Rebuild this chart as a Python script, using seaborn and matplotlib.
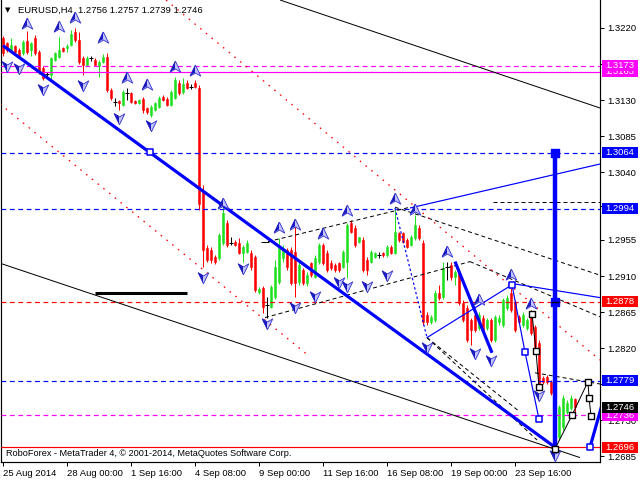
import numpy as np
import pandas as pd
import matplotlib
matplotlib.use("Agg")
import matplotlib.pyplot as plt
import matplotlib.transforms as mtransforms
from matplotlib.patches import Rectangle
from matplotlib.path import Path
import seaborn as sns

# EURUSD H4 свечи (цены)
opens = [1.3208, 1.3201, 1.3193, 1.3198, 1.3193, 1.3189, 1.3204, 1.3193, 1.3208, 1.3190,
         1.3170, 1.3163, 1.3161, 1.3180, 1.3184, 1.3195, 1.3195, 1.3199, 1.3215, 1.3205,
         1.3183, 1.3174, 1.3183, 1.3180, 1.3173, 1.3178, 1.3184, 1.3143, 1.3128, 1.3129,
         1.3124, 1.3139, 1.3139, 1.3129, 1.3126, 1.3131, 1.3120, 1.3111, 1.3118, 1.3121,
         1.3134, 1.3131, 1.3124, 1.3133, 1.3151, 1.3140, 1.3151, 1.3146, 1.3151, 1.3145,
         1.3015, 1.2945, 1.2943, 1.2934, 1.2933, 1.2951, 1.2976, 1.2951, 1.2953, 1.2951,
         1.2939, 1.2940, 1.2939, 1.2934, 1.2890, 1.2895, 1.2874, 1.2871, 1.2884, 1.2903,
         1.2933, 1.2943, 1.2943, 1.2940, 1.2903, 1.2918, 1.2901, 1.2926, 1.2909, 1.2928,
         1.2949, 1.2939, 1.2926, 1.2924, 1.2926, 1.2921, 1.2928, 1.2976, 1.2970, 1.2953,
         1.2955, 1.2930, 1.2928, 1.2934, 1.2936, 1.2939, 1.2936, 1.2946, 1.2939, 1.2964,
         1.2964, 1.2955, 1.2949, 1.2958, 1.2970, 1.2951, 1.2861, 1.2853, 1.2855, 1.2889,
         1.2884, 1.2921, 1.2924, 1.2909, 1.2914, 1.2876, 1.2870, 1.2855, 1.2861, 1.2845,
         1.2858, 1.2845, 1.2855, 1.2830, 1.2853, 1.2849, 1.2870, 1.2889, 1.2878, 1.2859,
         1.2849, 1.2845, 1.2864, 1.2846, 1.2826, 1.2783, 1.2784, 1.2778, 1.2764, 1.2709,
         1.2721, 1.2740, 1.2745, 1.2756]
highs = [1.3210, 1.3203, 1.3208, 1.3199, 1.3195, 1.3205, 1.3216, 1.3203, 1.3211, 1.3193,
         1.3173, 1.3165, 1.3184, 1.3190, 1.3209, 1.3196, 1.3200, 1.3218, 1.3220, 1.3215,
         1.3185, 1.3185, 1.3185, 1.3183, 1.3180, 1.3188, 1.3189, 1.3145, 1.3133, 1.3130,
         1.3143, 1.3145, 1.3140, 1.3130, 1.3131, 1.3134, 1.3121, 1.3124, 1.3128, 1.3135,
         1.3136, 1.3134, 1.3143, 1.3159, 1.3155, 1.3158, 1.3155, 1.3150, 1.3155, 1.3149,
         1.3024, 1.2949, 1.2946, 1.2936, 1.2964, 1.2999, 1.2980, 1.2959, 1.2955, 1.2958,
         1.2949, 1.2955, 1.2943, 1.2936, 1.2896, 1.2898, 1.2884, 1.2899, 1.2930, 1.2958,
         1.2949, 1.2945, 1.2946, 1.2976, 1.2928, 1.2920, 1.2915, 1.2928, 1.2936, 1.2951,
         1.2951, 1.2943, 1.2930, 1.2926, 1.2928, 1.2943, 1.2976, 1.2980, 1.2974, 1.2959,
         1.2959, 1.2934, 1.2943, 1.2940, 1.2940, 1.2940, 1.2949, 1.2949, 1.2995, 1.2965,
         1.2965, 1.2958, 1.2961, 1.2986, 1.2974, 1.2955, 1.2865, 1.2861, 1.2893, 1.2899,
         1.2928, 1.2928, 1.2928, 1.2918, 1.2918, 1.2880, 1.2874, 1.2858, 1.2864, 1.2865,
         1.2861, 1.2858, 1.2858, 1.2861, 1.2861, 1.2883, 1.2886, 1.2899, 1.2880, 1.2861,
         1.2865, 1.2858, 1.2868, 1.2849, 1.2830, 1.2785, 1.2786, 1.2780, 1.2768, 1.2749,
         1.2761, 1.2755, 1.2761, 1.2757]
lows = [1.3185, 1.3190, 1.3191, 1.3188, 1.3183, 1.3186, 1.3188, 1.3185, 1.3186, 1.3163,
        1.3155, 1.3158, 1.3155, 1.3179, 1.3183, 1.3190, 1.3190, 1.3198, 1.3203, 1.3175,
        1.3161, 1.3173, 1.3179, 1.3173, 1.3159, 1.3176, 1.3140, 1.3130, 1.3123, 1.3118,
        1.3123, 1.3130, 1.3126, 1.3125, 1.3125, 1.3114, 1.3113, 1.3109, 1.3116, 1.3120,
        1.3129, 1.3123, 1.3123, 1.3131, 1.3136, 1.3138, 1.3144, 1.3144, 1.3145, 1.2993,
        1.2921, 1.2928, 1.2926, 1.2925, 1.2930, 1.2949, 1.2946, 1.2949, 1.2948, 1.2938,
        1.2928, 1.2939, 1.2918, 1.2890, 1.2888, 1.2864, 1.2858, 1.2870, 1.2881, 1.2900,
        1.2928, 1.2918, 1.2899, 1.2884, 1.2899, 1.2899, 1.2898, 1.2909, 1.2908, 1.2925,
        1.2924, 1.2915, 1.2918, 1.2915, 1.2915, 1.2920, 1.2908, 1.2964, 1.2946, 1.2951,
        1.2915, 1.2911, 1.2926, 1.2933, 1.2933, 1.2934, 1.2934, 1.2938, 1.2938, 1.2953,
        1.2951, 1.2945, 1.2948, 1.2955, 1.2955, 1.2849, 1.2849, 1.2850, 1.2853, 1.2880,
        1.2881, 1.2905, 1.2905, 1.2899, 1.2874, 1.2853, 1.2828, 1.2824, 1.2840, 1.2843,
        1.2840, 1.2843, 1.2828, 1.2828, 1.2849, 1.2846, 1.2868, 1.2865, 1.2840, 1.2850,
        1.2846, 1.2843, 1.2836, 1.2818, 1.2774, 1.2775, 1.2775, 1.2761, 1.2696, 1.2705,
        1.2718, 1.2738, 1.2743, 1.2739]
closes = [1.3189, 1.3193, 1.3199, 1.3190, 1.3184, 1.3203, 1.3190, 1.3201, 1.3189, 1.3165,
          1.3158, 1.3163, 1.3183, 1.3189, 1.3193, 1.3191, 1.3198, 1.3213, 1.3205, 1.3178,
          1.3174, 1.3183, 1.3183, 1.3174, 1.3178, 1.3184, 1.3143, 1.3133, 1.3128, 1.3126,
          1.3140, 1.3139, 1.3128, 1.3126, 1.3130, 1.3118, 1.3115, 1.3121, 1.3126, 1.3133,
          1.3130, 1.3124, 1.3140, 1.3155, 1.3139, 1.3150, 1.3145, 1.3146, 1.3146, 1.3000,
          1.2943, 1.2930, 1.2930, 1.2928, 1.2961, 1.2989, 1.2949, 1.2951, 1.2949, 1.2939,
          1.2946, 1.2951, 1.2921, 1.2893, 1.2894, 1.2871, 1.2874, 1.2896, 1.2921, 1.2945,
          1.2943, 1.2921, 1.2901, 1.2901, 1.2924, 1.2901, 1.2911, 1.2911, 1.2933, 1.2949,
          1.2926, 1.2918, 1.2920, 1.2918, 1.2918, 1.2940, 1.2974, 1.2965, 1.2949, 1.2959,
          1.2918, 1.2918, 1.2940, 1.2939, 1.2936, 1.2936, 1.2946, 1.2939, 1.2965, 1.2955,
          1.2953, 1.2946, 1.2959, 1.2974, 1.2958, 1.2853, 1.2853, 1.2859, 1.2889, 1.2883,
          1.2920, 1.2921, 1.2909, 1.2915, 1.2876, 1.2855, 1.2830, 1.2843, 1.2843, 1.2861,
          1.2843, 1.2855, 1.2830, 1.2859, 1.2858, 1.2880, 1.2883, 1.2868, 1.2843, 1.2853,
          1.2861, 1.2855, 1.2839, 1.2821, 1.2776, 1.2778, 1.2778, 1.2764, 1.2705, 1.2746,
          1.2758, 1.2751, 1.2758, 1.2746]

time_tick_bars = [0, 16, 32, 48, 64, 80, 96, 112, 128]
time_tick_labels = ['25 Aug 2014', '28 Aug 00:00', '1 Sep 16:00', '4 Sep 08:00', '9 Sep 00:00',
                    '11 Sep 16:00', '16 Sep 08:00', '19 Sep 00:00', '23 Sep 16:00']
price_ticks = [1.3220, 1.3175, 1.3130, 1.3085, 1.3040, 1.2998, 1.2955, 1.2910,
               1.2865, 1.2820, 1.2775, 1.2730, 1.2685]
# подписи, полностью закрытые плашками, не выводим
hidden_ticks = [1.3175, 1.2998, 1.2775]

# горизонтальные уровни
level_prices = [1.3173, 1.3165, 1.3064, 1.2994, 1.2878, 1.2779, 1.2736, 1.2696]
level_colors = ['#FF00FF', '#FF00FF', '#0000FF', '#0000FF', '#FF0000', '#0000FF', '#FF00FF', '#FF0000']
level_solid = [False, True, False, False, False, False, False, True]

# метки цены справа (в порядке отрисовки)
box_prices = [1.2696, 1.2736, 1.2746, 1.2779, 1.2878, 1.2994, 1.3064, 1.3165, 1.3173]
box_colors = ['#FF0000', '#FF00FF', '#000000', '#0000FF', '#FF0000', '#0000FF', '#0000FF', '#FF00FF', '#FF00FF']

# трендовые линии: (бар0, цена0, бар1, цена1)
black_thin = [(69.25, 1.3255, 149.25, 1.3120), (-0.75, 1.2926, 144.25, 1.2683),
              (64.5, 1.2953, 66.5, 1.2953)]
black_dashed = [(66.25, 1.2953, 101.75, 1.2996), (65.5, 1.2858, 116.75, 1.2928),
                (98.0, 1.2996, 149.25, 1.2911), (116.75, 1.2928, 149.25, 1.2859),
                (106.0, 1.2833, 133.5, 1.2705), (106.0, 1.2833, 129.25, 1.2740),
                (133.0, 1.2789, 149.25, 1.2775), (122.5, 1.3003, 149.25, 1.3003)]
black_thick = [(23.0, 1.2889, 46.0, 1.2889)]
red_dotted = [(40.75, 1.3255, 149.25, 1.2805), (-0.75, 1.3125, 76.25, 1.2811)]
blue_thin = [(101.75, 1.2995, 149.25, 1.3050), (126.75, 1.2901, 149.25, 1.2883)]
blue_dotted = [(98.0, 1.2995, 106.0, 1.2833)]
blue_thick = [(0.0, 1.3198, 138.0, 1.2696), (113.0, 1.2928, 122.25, 1.2814),
              (146.75, 1.2696, 149.75, 1.2749)]
blue_vertical = [(138.0, 1.3064, 138.0, 1.2696)]

# зигзаги
blue_zz_bars = [106.0, 127.25, 130.5, 134.0]
blue_zz_prices = [1.2833, 1.2899, 1.2815, 1.2731]
black_zz1_bars = [132.25, 133.25, 134.0]
black_zz1_prices = [1.2863, 1.2816, 1.2771]
black_zz2_bars = [138.0, 142.25, 146.25, 146.5, 147.0]
black_zz2_prices = [1.2694, 1.2736, 1.2778, 1.2758, 1.2735]
blue_sq_bars = [36.75, 127.25, 130.5, 134.0, 146.75]
blue_sq_prices = [1.3065, 1.2899, 1.2815, 1.2731, 1.2696]

# фракталы
frac_up_bars = [6, 14, 18, 25, 31, 36, 43, 48, 55, 69, 73, 80, 86, 98, 103, 111, 119, 127, 132]
frac_up_prices = [1.3225, 1.3221, 1.3233, 1.3208, 1.3158, 1.3149, 1.3171, 1.3166, 1.3000, 1.2970,
                  1.2974, 1.2963, 1.2991, 1.3006, 1.2993, 1.2940, 1.2880, 1.2911, 1.2875]
frac_dn_bars = [1, 4, 10, 20, 29, 37, 50, 60, 66, 73, 78, 84, 86, 91, 96, 106, 118, 122, 134, 138]
frac_dn_prices = [1.3173, 1.3170, 1.3144, 1.3149, 1.3108, 1.3099, 1.2909, 1.2920, 1.2851, 1.2871,
                  1.2885, 1.2903, 1.2898, 1.2898, 1.2911, 1.2821, 1.2814, 1.2805, 1.2761, 1.2686]

GREEN = '#1EE01E'
RED = '#FF0000'
PX = 0.72  # 1 px в пунктах

sns.set_theme(style="white")
plt.rcParams['font.family'] = ['Liberation Sans', 'DejaVu Sans']

fig = plt.figure(figsize=(6.4, 4.8), dpi=100)
fig.patch.set_facecolor('white')
ax = fig.add_axes([1 / 640, 18 / 480, 599 / 640, 462 / 480])
ax.set_facecolor('white')

df = pd.DataFrame({'o': opens, 'h': highs, 'l': lows, 'c': closes})
df['bar'] = np.arange(len(df))
df['col'] = np.where(df.c > df.o, GREEN, np.where(df.c < df.o, RED, 'black'))

# свечи
ax.vlines(df.bar, df.l, df.h, colors=df.col, lw=PX, zorder=2)
body = df[df.c != df.o]
ax.bar(body.bar, (body.c - body.o).abs(), bottom=np.minimum(body.o, body.c), width=0.65,
       color=body.col, edgecolor=body.col, lw=0.4, zorder=2)
doji = df[df.c == df.o]
ax.hlines(doji.c, doji.bar - 0.45, doji.bar + 0.45, colors='black', lw=PX, zorder=2)

# уровни
for p, col, solid in zip(level_prices, level_colors, level_solid):
    ax.axhline(p, color=col, lw=PX * 1.2, ls='-' if solid else (0, (4, 3)), zorder=3)


def draw_lines(segs, **kw):
    for x0, y0, x1, y1 in segs:
        ax.plot([x0, x1], [y0, y1], solid_capstyle='butt', zorder=3, **kw)


draw_lines(black_thin, color='black', lw=PX)
draw_lines(black_dashed, color='black', lw=PX, ls=(0, (4, 3)))
draw_lines(black_thick, color='black', lw=2.2)
draw_lines(red_dotted, color=RED, lw=PX * 1.3, ls=(0, (1.2, 4.5)))
draw_lines(blue_thin, color='#0000FF', lw=PX * 1.2)
draw_lines(blue_dotted, color='#0000FF', lw=PX * 1.2, ls=(0, (2, 2)))
draw_lines(blue_thick, color='#0000FF', lw=2.3)
draw_lines(blue_vertical, color='#0000FF', lw=3.2)

ax.plot(blue_zz_bars, blue_zz_prices, color='#0000FF', lw=PX * 1.2, zorder=3)
ax.plot(black_zz1_bars, black_zz1_prices, color='black', lw=PX, zorder=3)
ax.plot(black_zz2_bars, black_zz2_prices, color='black', lw=PX, zorder=3)

sns.scatterplot(x=blue_sq_bars, y=blue_sq_prices, marker='s', s=22, facecolor='white',
                edgecolor='#0000FF', linewidth=1.1, ax=ax, zorder=5)
sns.scatterplot(x=black_zz1_bars + black_zz2_bars, y=black_zz1_prices + black_zz2_prices,
                marker='s', s=22, facecolor='white', edgecolor='black', linewidth=1.0, ax=ax, zorder=5)
ax.scatter([blue_vertical[0][0]], [blue_vertical[0][1]], marker='s', s=40, color='#0000FF', zorder=5)
ax.scatter([blue_vertical[0][0]], [level_prices[4]], marker='s', s=34, color='#0000FF', zorder=5)
ax.scatter([blue_vertical[0][0]], [level_prices[4]], marker='_', s=40, color='black', lw=1, zorder=6)

# фракталы
up_full = Path([(0, 1), (0.85, -0.75), (0, -0.25), (-0.85, -0.75), (0, 1)],
               [Path.MOVETO, Path.LINETO, Path.LINETO, Path.LINETO, Path.CLOSEPOLY])
up_half = Path([(0, 1), (0, -0.25), (-0.85, -0.75), (0, 1)],
               [Path.MOVETO, Path.LINETO, Path.LINETO, Path.CLOSEPOLY])
dn_full = Path(up_full.vertices * [1, -1], up_full.codes)
dn_half = Path(up_half.vertices * [1, -1], up_half.codes)
for bars_, prices_, full, half in [(frac_up_bars, frac_up_prices, up_full, up_half),
                                   (frac_dn_bars, frac_dn_prices, dn_full, dn_half)]:
    ax.scatter(bars_, prices_, marker=full, s=80, facecolor='#C4C4FF', edgecolor='#3030D0',
               linewidth=0.6, zorder=4)
    ax.scatter(bars_, prices_, marker=half, s=80, facecolor='#1C1CC0', edgecolor='none', zorder=4)

ax.set_xlim(-0.5, 149.25)
ax.set_ylim(1.26775, 1.3255)

# оси
ax.yaxis.tick_right()
ax.set_yticks(price_ticks)
ax.set_yticklabels(['' if t in hidden_ticks else f'{t:.4f}' for t in price_ticks])
ax.set_xticks(time_tick_bars)
ax.set_xticklabels(time_tick_labels, ha='left')
ax.tick_params(axis='y', right=True, left=False, labelright=True, labelleft=False, direction='out',
               length=3, width=PX, pad=2, labelsize=6.8, colors='black')
ax.tick_params(axis='x', bottom=True, direction='out', length=3, width=PX, pad=2,
               labelsize=6.8, colors='black')
for side in ['left', 'right', 'bottom']:
    ax.spines[side].set_color('black')
    ax.spines[side].set_linewidth(PX * 1.2)
ax.spines['top'].set_visible(False)

# плашки цен справа
trans = mtransforms.blended_transform_factory(fig.transFigure, ax.transData)
box_h = 11 * (1.3255 - 1.26775) / 462
for i, (p, col) in enumerate(zip(box_prices, box_colors)):
    ax.add_patch(Rectangle((602 / 640, p - box_h / 2), 36 / 640, box_h, transform=trans,
                           facecolor=col, edgecolor='none', clip_on=False, zorder=10 + i))
    ax.text(620 / 640, p, f'{p:.4f}', transform=trans, ha='center', va='center', color='white',
            fontsize=6.8, clip_on=False, zorder=10 + i)

fig.text(8 / 640, 1 - 10 / 480, '▼', fontsize=5, color='black', ha='center', va='center',
         family=['DejaVu Sans'])
fig.text(18 / 640, 1 - 10 / 480, 'EURUSD,H4  1.2756 1.2757 1.2739 1.2746', fontsize=6.8,
         color='black', ha='left', va='center')
fig.text(6 / 640, 1 - 453 / 480, 'RoboForex - MetaTrader 4, © 2001-2014, MetaQuotes Software Corp.',
         fontsize=6.6, color='black', ha='left', va='center')

fig.savefig('out.png', dpi=100, facecolor='white')
